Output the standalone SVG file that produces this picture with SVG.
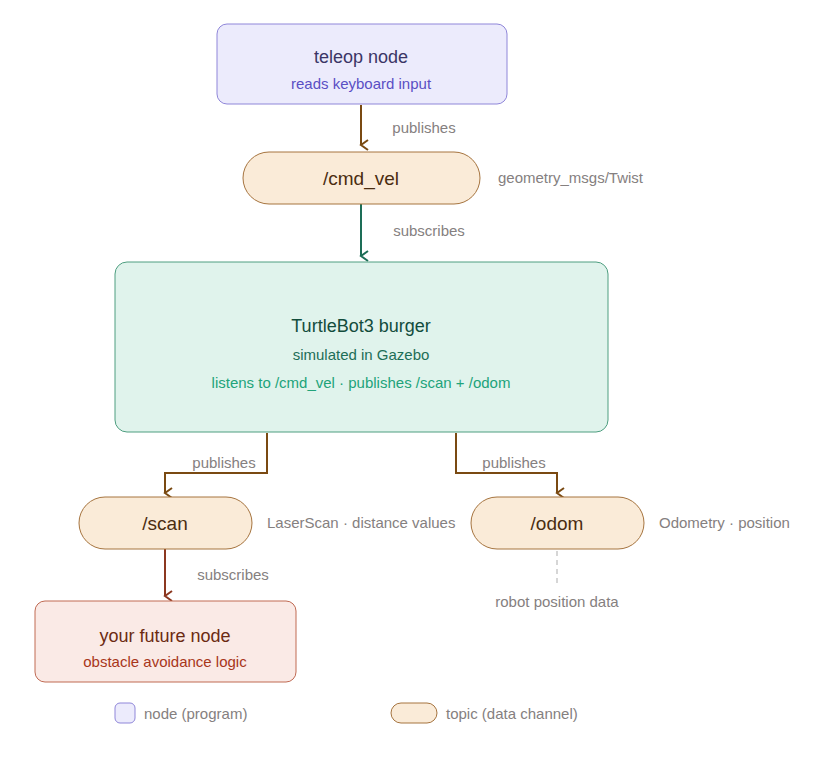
<svg xmlns="http://www.w3.org/2000/svg" width="837" height="771" viewBox="0 0 837 771">
<style>
text{font-family:"Liberation Sans",Arial,sans-serif;text-anchor:middle}
.node{fill:#ecebfc;stroke:#8f86d9;stroke-width:1}
.topic{fill:#faebd8;stroke:#a6743f;stroke-width:1}
.lbl{font-size:15px;fill:#858080}
.side{font-size:15px;fill:#858080;text-anchor:start}
.tt{font-size:19px;fill:#4a2d10}
</style>
<defs>
<marker id="ab" markerWidth="12" markerHeight="12" refX="6" refY="10" orient="auto" markerUnits="userSpaceOnUse"><path d="M1,3 L6,10 L11,3" fill="none" stroke="#7a4a12" stroke-width="2"/></marker>
<marker id="ag" markerWidth="12" markerHeight="12" refX="6" refY="10" orient="auto" markerUnits="userSpaceOnUse"><path d="M1,3 L6,10 L11,3" fill="none" stroke="#1d6e57" stroke-width="2"/></marker>
<marker id="ar" markerWidth="12" markerHeight="12" refX="6" refY="10" orient="auto" markerUnits="userSpaceOnUse"><path d="M1,3 L6,10 L11,3" fill="none" stroke="#8c3820" stroke-width="2"/></marker>
</defs>
<rect width="837" height="771" fill="#fff"/>
<g id="connectors" fill="none" stroke-width="2">
<path d="M361,105 V145" stroke="#7a4a12" marker-end="url(#ab)"/>
<path d="M361,204 V256" stroke="#1d6e57" marker-end="url(#ag)"/>
<path d="M267,433 V473 H165 V493" stroke="#7a4a12" marker-end="url(#ab)"/>
<path d="M456,433 V473 H557 V493" stroke="#7a4a12" marker-end="url(#ab)"/>
<path d="M165,549 V596" stroke="#8c3820" marker-end="url(#ar)"/>
<path d="M557,551 V585" stroke="#bbb" stroke-width="1.2" stroke-dasharray="5,4"/>
</g>
<g id="edge-labels">
<text class="lbl" x="424" y="133">publishes</text>
<text class="lbl" x="429" y="236">subscribes</text>
<text class="lbl" x="224" y="468">publishes</text>
<text class="lbl" x="514" y="468">publishes</text>
<text class="lbl" x="233" y="580">subscribes</text>
<text class="lbl" x="557" y="607">robot position data</text>
</g>
<g id="teleop">
<rect class="node" x="217" y="24" width="290" height="80" rx="10"/>
<text x="361" y="63" font-size="18" fill="#3b3566">teleop node</text>
<text x="361" y="89" font-size="15" fill="#5a4fc4">reads keyboard input</text>
</g>
<g id="cmd_vel">
<rect class="topic" x="243" y="152" width="237" height="52" rx="26"/>
<text class="tt" x="361" y="185">/cmd_vel</text>
<text class="side" x="498" y="183">geometry_msgs/Twist</text>
</g>
<g id="turtlebot">
<rect x="115" y="262" width="493" height="170" rx="12" fill="#e0f3ec" stroke="#4e9e80"/>
<text x="361" y="332" font-size="18" fill="#124c3c">TurtleBot3 burger</text>
<text x="361" y="360" font-size="15" fill="#1d6e57">simulated in Gazebo</text>
<text x="361" y="388" font-size="15" fill="#21a37a">listens to /cmd_vel · publishes /scan + /odom</text>
</g>
<g id="scan">
<rect class="topic" x="79" y="497" width="173" height="52" rx="26"/>
<text class="tt" x="165" y="530">/scan</text>
<text class="side" x="267" y="528">LaserScan · distance values</text>
</g>
<g id="odom">
<rect class="topic" x="471" y="497" width="173" height="52" rx="26"/>
<text class="tt" x="557" y="530">/odom</text>
<text class="side" x="659" y="528">Odometry · position</text>
</g>
<g id="future">
<rect x="35" y="601" width="261" height="81" rx="10" fill="#faeae6" stroke="#c06a53"/>
<text x="165" y="642" font-size="18" fill="#6b2a12">your future node</text>
<text x="165" y="667" font-size="15" fill="#a8361a">obstacle avoidance logic</text>
</g>
<g id="legend">
<rect class="node" x="115" y="703" width="20" height="20" rx="5"/>
<text class="side" x="144" y="719">node (program)</text>
<rect class="topic" x="391" y="703" width="46" height="20" rx="10"/>
<text class="side" x="446" y="719">topic (data channel)</text>
</g>
</svg>
